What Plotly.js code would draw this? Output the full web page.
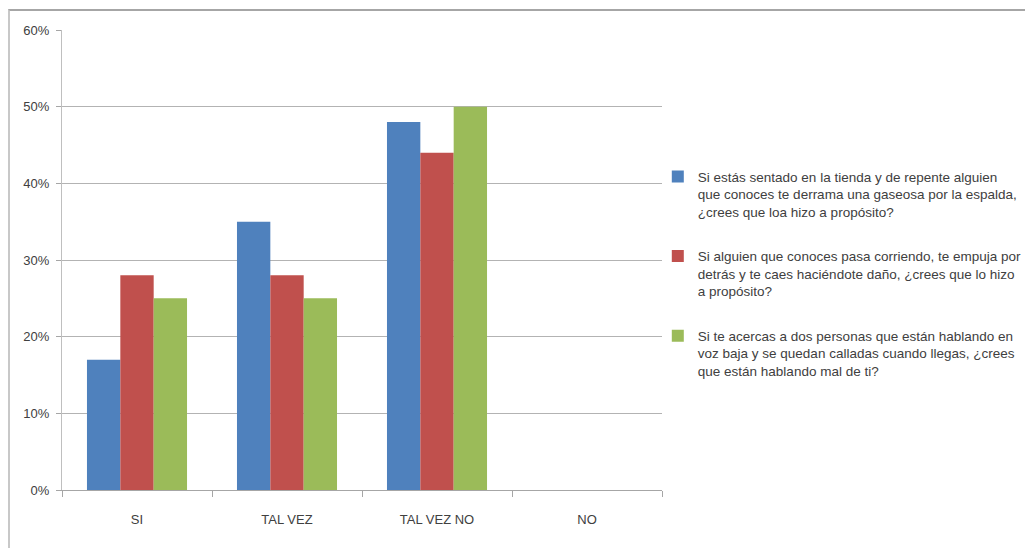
<!DOCTYPE html>
<html>
<head>
<meta charset="utf-8">
<script src="https://cdn.plot.ly/plotly-3.0.1.min.js"></script>
<style>
html,body{margin:0;padding:0;background:#fff;}
#wrap{position:relative;width:1025px;height:548px;}
#chart{position:absolute;left:0;top:0;width:1025px;height:548px;}
#frame{position:absolute;left:8px;top:9px;width:1030px;height:560px;border-top:2px solid #a6a6a6;border-left:2px solid #c8c8c8;pointer-events:none;}
</style>
</head>
<body>
<div id="wrap"><div id="chart"></div><div id="frame"></div></div>
<script>
const categories = ["SI", "TAL VEZ", "TAL VEZ NO", "NO"];
const seriesNames = [
  "Si estás sentado en la tienda y de repente alguien<br>que conoces te derrama una gaseosa por la espalda,<br>¿crees que loa hizo a propósito?",
  "Si alguien que conoces pasa corriendo, te empuja por<br>detrás y te caes haciéndote daño, ¿crees que lo hizo<br>a propósito?",
  "Si te acercas a dos personas que están hablando en<br>voz baja y se quedan calladas cuando llegas, ¿crees<br>que están hablando mal de ti?"
];
const serieTienda = [0.17, 0.35, 0.48, 0];
const serieEmpuja = [0.28, 0.28, 0.44, 0];
const serieHablando = [0.25, 0.25, 0.50, 0];
const yTicks = [0, 0.1, 0.2, 0.3, 0.4, 0.5, 0.6];
const yTickText = ["0%", "10%", "20%", "30%", "40%", "50%", "60%"];

const colors = ["#4F81BD", "#C0504D", "#9BBB59"];
const values = [serieTienda, serieEmpuja, serieHablando];
const FONT = "Liberation Sans, Arial, sans-serif";

const data = values.map((v, i) => ({
  type: "bar",
  x: categories,
  y: v,
  name: seriesNames[i],
  legendgroup: "g" + i,
  marker: {color: colors[i], line: {width: 0}},
  hoverinfo: "skip"
}));

const layout = {
  width: 1025, height: 548,
  margin: {l: 62, r: 363, t: 30, b: 58, autoexpand: false},
  paper_bgcolor: "#ffffff",
  plot_bgcolor: "#ffffff",
  barmode: "group",
  bargap: 0.333,
  bargroupgap: 0,
  font: {family: FONT, size: 13, color: "#404040"},
  showlegend: true,
  legend: {
    x: 0.993, xanchor: "left",
    y: 0.715, yanchor: "top",
    font: {family: FONT, size: 13.5, color: "#404040"},
    valign: "top",
    tracegroupgap: 24,
    bgcolor: "rgba(0,0,0,0)"
  },
  xaxis: {
    type: "category",
    showgrid: false,
    showline: true, linecolor: "#a6a6a6", linewidth: 1,
    ticks: "outside", tickson: "boundaries", ticklen: 6, tickcolor: "#a6a6a6",
    ticklabelstandoff: 17,
    tickfont: {family: FONT, size: 13, color: "#404040"},
    fixedrange: true
  },
  yaxis: {
    range: [0, 0.6],
    tickvals: yTicks, ticktext: yTickText,
    showgrid: true, gridcolor: "#b3b3b3", gridwidth: 1,
    showline: true, linecolor: "#bfbfbf", linewidth: 1,
    ticks: "outside", ticklen: 5, tickcolor: "#a6a6a6",
    ticklabelstandoff: 4,
    zeroline: false,
    tickfont: {family: FONT, size: 13, color: "#404040"},
    fixedrange: true
  }
};

Plotly.newPlot("chart", data, layout, {displayModeBar: false, staticPlot: true});
</script>
</body>
</html>
